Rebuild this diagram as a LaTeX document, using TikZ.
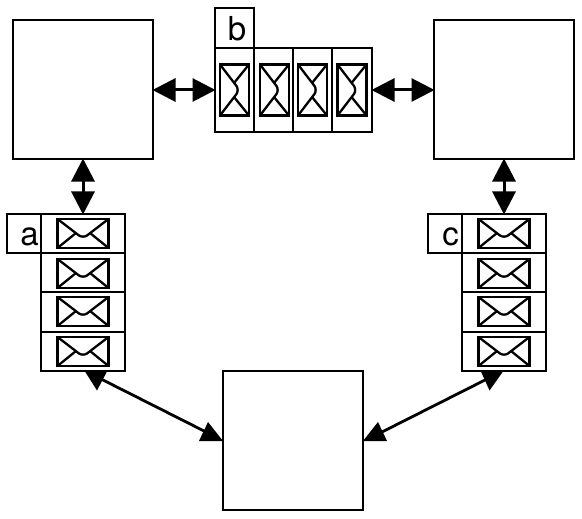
\documentclass[tikz,border=0pt]{standalone}
\usepackage{fontspec}
\setmainfont{TeX Gyre Heros}
\usetikzlibrary{arrows.meta}
\tikzset{
  x=1bp,y=-1bp,
  box/.style={draw,line width=2.6bp,minimum width=140bp,minimum height=139bp,inner sep=0pt,outer sep=0pt},
  cell/.style={draw,line width=2.6bp,inner sep=0pt,outer sep=0pt},
  lab/.style={cell},
  labtext/.style={inner sep=0pt,font=\fontsize{33bp}{33bp}\selectfont},
  dbl/.style={line width=3bp,{Triangle[length=23bp,width=23bp]}-{Triangle[length=23bp,width=23bp]},shorten <=-0.5bp,shorten >=-0.5bp},
  link/.style={line width=2.8bp},
  tip/.style={fill=black,draw=none},
  envframe/.style={line width=2.8bp},
  envline/.style={line width=2.3bp,line join=round}
}
% horizontal envelope: centre x, centre y
\newcommand{\henv}[2]{\begin{scope}[shift={(#1,#2)}]
  \draw[envframe] (-25.5,-14.5) rectangle (25.5,14.5);
  \draw[envline] (-25.5,-14.5) -- (-4,2) .. controls (-2,3.5) and (2,3.5) .. (4,2) -- (25.5,-14.5);
  \draw[envline] (-25.5,14.5) -- (-7,-0.5);
  \draw[envline] (25.5,14.5) -- (7,-0.5);
\end{scope}}
% vertical envelope
\newcommand{\venv}[2]{\begin{scope}[shift={(#1,#2)}]
  \draw[envframe] (-14.5,-25.5) rectangle (14.5,25.5);
  \draw[envline] (-14.5,-25.5) -- (2,-4) .. controls (3.5,-2) and (3.5,2) .. (2,4) -- (-14.5,25.5);
  \draw[envline] (14.5,-25.5) -- (-0.5,-7);
  \draw[envline] (14.5,25.5) -- (-0.5,7);
\end{scope}}
\begin{document}
\begin{tikzpicture}
\useasboundingbox (0,0) rectangle (582,519);
\node[box] (left) at (83,89.5) {};
\node[box] (right) at (504,89.5) {};
\node[box] (bottom) at (293,440.5) {};
% stack a
\foreach \t/\b in {214/253,253/292,292/332,332/371}
  \draw[cell] (41,\t) rectangle (125,\b);
\node[lab,minimum width=34bp,minimum height=39bp] (la) at (24,233.5) {};
\node[labtext] (ta) at (29.5,236.5) {a};
\coordinate (atop) at (83,214);
\coordinate (abot) at (96,371);
\henv{83}{233.5}\henv{83}{273.5}\henv{83}{311.5}\henv{83}{351.5}
% stack c
\foreach \t/\b in {214/253,253/292,292/332,332/371}
  \draw[cell] (462,\t) rectangle (546,\b);
\node[lab,minimum width=34bp,minimum height=39bp] (lc) at (445,233.5) {};
\node[labtext] (tc) at (450.5,236.5) {c};
\coordinate (ctop) at (504,214);
\coordinate (cbot) at (492,371);
\henv{504}{233.5}\henv{504}{273.5}\henv{504}{311.5}\henv{504}{351.5}
% stack b
\foreach \l/\r in {215/254,254/293,293/332,332/372}
  \draw[cell] (\l,48) rectangle (\r,132);
\node[lab,minimum width=39bp,minimum height=40bp] (lb) at (234.5,28) {};
\node[labtext] (tb) at (237,28.5) {b};
\coordinate (bleft) at (215,90);
\coordinate (bright) at (372,90);
\venv{234.5}{90}\venv{274.5}{90}\venv{312.5}{90}\venv{352}{90}
% connectors
\coordinate (leftE) at (153,90);
\coordinate (rightW) at (434,90);
\draw[dbl] (leftE) -- (bleft);
\draw[dbl] (bright) -- (rightW);
\draw[dbl] (left.south) -- (atop);
\draw[dbl] (right.south) -- (ctop);
\coordinate (dl1) at (101,379);
\coordinate (dl2) at (208,433);
\coordinate (dr1) at (487,379);
\coordinate (dr2) at (380,433);
\draw[link] (dl1) -- (dl2);
\draw[link] (dr1) -- (dr2);
\fill[tip] (85,371.5) -- (107,371.5) -- (97,390.5) -- cycle;
\fill[tip] (481,371.5) -- (503,371.5) -- (489.5,390.5) -- cycle;
\fill[tip] (199,441) -- (223,441) -- (208,422) -- cycle;
\fill[tip] (387,441) -- (363,441) -- (378,422) -- cycle;
\end{tikzpicture}
\end{document}
